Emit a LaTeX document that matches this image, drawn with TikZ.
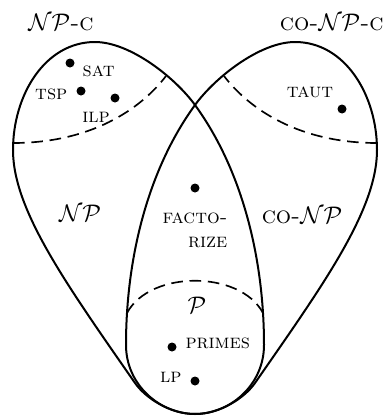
\documentclass[tikz,border=0pt]{standalone}
\usetikzlibrary{positioning}

\begin{document}
\begin{tikzpicture}[
  x=0.6pt, y=-0.6pt,
  set/.style={line width=1.2pt},
  cut/.style={line width=1pt, dash pattern=on 7pt off 4pt},
  dot/.style={circle, fill, inner sep=0pt, minimum size=5.4pt},
  item/.style={font=\large\scshape, inner sep=1pt},
  cls/.style={font=\Large, inner sep=1pt}]
\useasboundingbox (0,0) rectangle (385,416);

% ---- the two classes ----
\coordinate (bot) at (195,414);
\coordinate (cross) at (195,105);
\draw[set] (bot) .. controls (170,414) and (145.5,398) .. (135,383)
  .. controls (66.6,284.6) and (13,210) .. (13,150)
  .. controls (13,95) and (45,42) .. (95,42)
  .. controls (130,42) and (175,77.5) .. (cross)
  .. controls (243,171) and (264,260) .. (264,345)
  .. controls (264,385) and (230,414) .. (bot);
\draw[set] (bot) .. controls (220,414) and (244.5,398) .. (255,383)
  .. controls (323.4,284.6) and (377,210) .. (377,150)
  .. controls (377,95) and (345,42) .. (295,42)
  .. controls (260,42) and (215,77.5) .. (cross)
  .. controls (147,171) and (126,260) .. (126,345)
  .. controls (126,385) and (160,414) .. (bot);

% ---- complete and easy parts ----
\draw[cut] (13,143) .. controls (90,143) and (140,110) .. (166,76);
\draw[cut] (377,143) .. controls (300,143) and (250,110) .. (224,76);
\draw[cut] (127,313) .. controls (150,270) and (240,270) .. (263,313);

% ---- class names ----
\node[cls] (npc) at (61,22) {$\mathcal{NP}$\textsc{-c}};
\node[cls, anchor=east, inner sep=0pt] (conpc) at (384,22) {\textsc{co-}$\mathcal{NP}$\textsc{-c}};
\node[cls] (np) at (80,213) {$\mathcal{NP}$};
\node[cls] (conp) at (302,215) {\textsc{co-}$\mathcal{NP}$};
\node[cls] (p) at (197,305) {$\mathcal{P}$};

% ---- problems ----
\node[dot] (sat) at (70,63) {};
\node[item, right=3.5pt of sat, yshift=-4.8pt] (satl) {sat};
\node[dot] (tsp) at (81,91) {};
\node[item, left=4.1pt of tsp, yshift=-1.8pt] (tspl) {tsp};
\node[dot] (ilp) at (115,98) {};
\node[item, below=4.6pt of ilp, xshift=-11.4pt] (ilpl) {ilp};
\node[dot] (taut) at (342,109) {};
\node[item, above=2.9pt of taut, xshift=-19.2pt] (tautl) {taut};
\node[dot] (fact) at (195,188) {};
\node[item, align=right, below=11pt of fact] (factl) {facto-\\rize};
\node[dot] (primes) at (172,347) {};
\node[item, right=4pt of primes, yshift=2.4pt] (primesl) {primes};
\node[dot] (lp) at (195,381) {};
\node[item, left=4pt of lp, yshift=2.4pt] (lpl) {lp};
\end{tikzpicture}
\end{document}
